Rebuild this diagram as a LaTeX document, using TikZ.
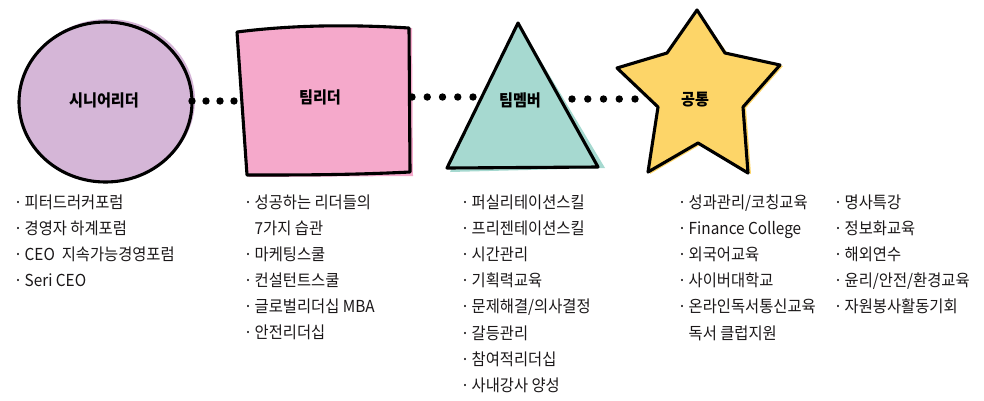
\documentclass[tikz,border=0pt]{standalone}
\usepackage{fontspec}
\setmainfont{Noto Sans CJK KR}
\newfontfamily\lstfont{Noto Sans CJK KR}[FakeStretch=0.93]
\usetikzlibrary{calc}
\definecolor{lav}{HTML}{D5B6D7}
\definecolor{pnk}{HTML}{F5A9CB}
\definecolor{tea}{HTML}{A6D9D0}
\definecolor{ylw}{HTML}{FDD568}
\definecolor{txt}{HTML}{1A1718}
\newcommand\mybul{\makebox[13pt][c]{·}}
\begin{document}
\begin{tikzpicture}[x=1pt,y=-1pt,
  shp/.style={draw=black, line width=3.1pt, line join=round},
  lbl/.style={font=\lstfont\fontsize{16.3}{18}\selectfont\bfseries, inner sep=0, text=black},
  lst/.style={font=\lstfont\fontsize{16.5}{18}\selectfont, text=txt, inner sep=0, anchor=base west},
  dotc/.style={fill=black}]
\useasboundingbox (0,0) rectangle (984,400);
% bleed layers
\fill[lav] (108,100) ellipse [x radius=87, y radius=81];
\fill[pnk] (240,30) -- (412,28) -- (413,176) -- (249,177) -- cycle;
\fill[tea] (520,26) -- (605,168) -- (450,172) -- cycle;
\fill[ylw] (699,12) -- (728,54) -- (783,66) -- (746,108) -- (751,174) -- (700,145) -- (650,174) -- (660,109) -- (619,70) -- (669,55) -- cycle;
% shapes
\draw[shp, fill=lav] (105.5,102) ellipse [x radius=86.5, y radius=80];
\draw[shp, fill=pnk] (237,32) .. controls (300,24) and (360,25) .. (409,28) -- (410,172) .. controls (350,175) and (300,175) .. (247,175) -- cycle;
\draw[shp, fill=tea] (518,23) -- (598,167) -- (447,168) -- cycle;
\draw[shp, fill=ylw] (697,10) -- (725,53) -- (780,65) -- (743,107) -- (748,173) -- (698,143) -- (648,172) -- (658,107) -- (617,68) -- (667,53) -- cycle;
% labels
\node[lbl] (sr) at (104,100) {시니어리더};
\node[lbl] (tl) at (320,97) {팀리더};
\node[lbl] (tm) at (520,100) {팀멤버};
\node[lbl] (cm) at (695,100) {공통};
% connector ends
\coordinate (c1a) at (192,101); \coordinate (c1b) at (234,101);
\coordinate (c2a) at (412,97);  \coordinate (c2b) at (473,97);
\coordinate (c3a) at (572,99);  \coordinate (c3b) at (635,99);
\foreach \p in {0,0.3333,0.6667,1}
  \fill[dotc] ($(c1a)!\p!(c1b)$) circle [radius=3.7pt];
\foreach \p in {0,0.25,0.5,0.75,1}
  \fill[dotc] ($(c2a)!\p!(c2b)$) circle [radius=3.7pt];
\foreach \p in {0,0.25,0.5,0.75,1}
  \fill[dotc] ($(c3a)!\p!(c3b)$) circle [radius=3.7pt];
% lists
\foreach \t [count=\i from 0] in {피터드러커포럼, 경영자 하계포럼, CEO\ \ 지속가능경영포럼, Seri CEO}
  \node[lst] (la\i) at (11.5,208+26*\i) {\mybul\t};
\node[lst] (lb0) at (241.5,208) {\mybul 성공하는 리더들의};
\node[lst] (lb1) at (241.5,234) {\hspace*{13pt}7가지 습관};
\foreach \t [count=\i from 2] in {마케팅스쿨, 컨설턴트스쿨, 글로벌리더십 MBA, 안전리더십}
  \node[lst] (lb\i) at (241.5,208+26*\i) {\mybul\t};
\foreach \t [count=\i from 0] in {퍼실리테이션스킬, 프리젠테이션스킬, 시간관리, 기획력교육, 문제해결/의사결정, 갈등관리, 참여적리더십, 사내강사 양성}
  \node[lst] (lc\i) at (458.5,208+26.2*\i) {\mybul\t};
\foreach \t [count=\i from 0] in {성과관리/코칭교육, Finance College, 외국어교육, 사이버대학교, 온라인독서통신교육}
  \node[lst] (ld\i) at (675.5,208+26.2*\i) {\mybul\t};
\node[lst] (ld5) at (675.5,339) {\hspace*{13pt}독서 클럽지원};
\foreach \t [count=\i from 0] in {명사특강, 정보화교육, 해외연수, 윤리/안전/환경교육, 자원봉사활동기회}
  \node[lst] (le\i) at (831.5,208+26.2*\i) {\mybul\t};
\end{tikzpicture}
\end{document}
